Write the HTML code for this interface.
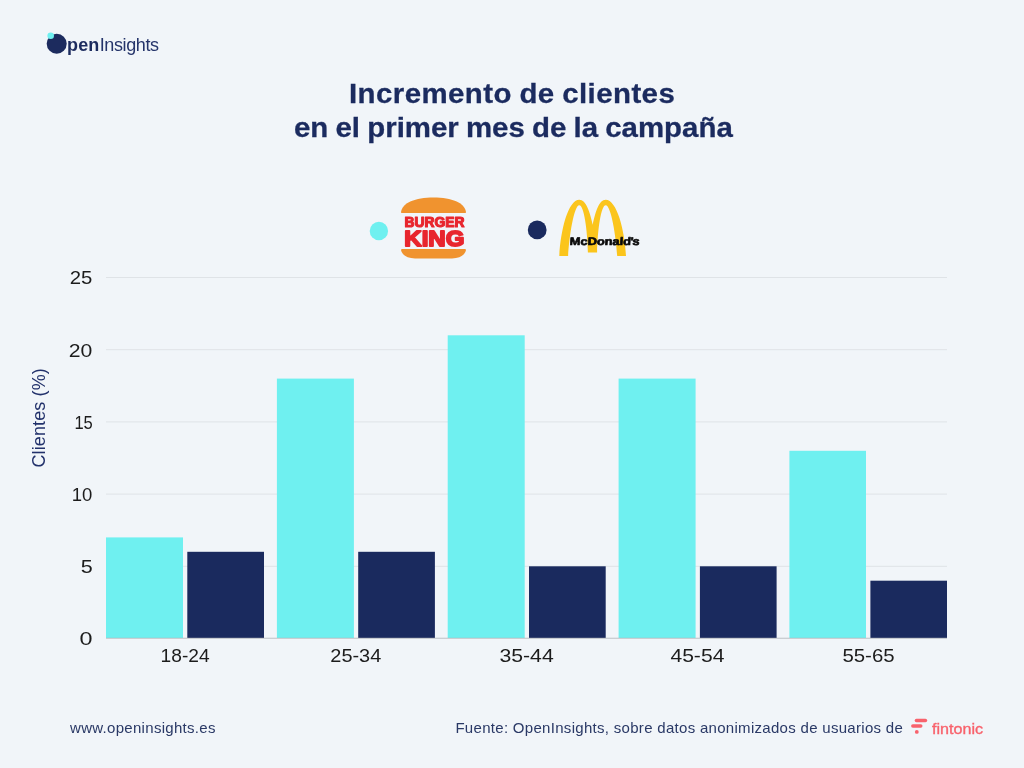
<!DOCTYPE html>
<html lang="es">
<head>
<meta charset="utf-8">
<title>Incremento de clientes en el primer mes de la campaña</title>
<style>
html,body{margin:0;padding:0;}
body{width:1024px;height:768px;overflow:hidden;background:#f1f5f9;position:relative;font-family:"Liberation Sans",sans-serif;}
.abs{position:absolute;white-space:nowrap;line-height:1;transform-origin:0 0;}
svg{position:absolute;left:0;top:0;}
svg text{font-family:"Liberation Sans",sans-serif;}
h1{margin:0;font-weight:700;color:#1b2b5f;font-size:28.5px;-webkit-text-stroke:0.3px #1b2b5f;}
#t1{left:348.8px;top:79.0px;letter-spacing:0.42px;word-spacing:-1px;transform:scaleX(1.032);}
#t2{left:294.3px;top:113.4px;letter-spacing:0.01px;word-spacing:-1px;transform:scaleX(1.032);}
#brand{left:67.0px;top:36.2px;font-size:18px;color:#1c2b5e;}
#brand b{font-weight:700;letter-spacing:0.15px;}
#brand span{margin-left:0.3px;letter-spacing:-0.38px;color:#25346a;}
#url{left:70px;top:720px;font-size:15px;color:#2a3966;letter-spacing:0.3px;}
#src{left:455.4px;top:720px;font-size:15px;color:#2a3966;letter-spacing:0.3px;}
#fin{left:931.6px;top:721.5px;font-size:14.8px;color:#f8626c;-webkit-text-stroke:0.35px #f8626c;transform:scaleX(1.09);}
</style>
</head>
<body>
<header>
  <svg width="180" height="70" viewBox="0 0 180 70">
    <circle cx="56.7" cy="43.8" r="10" fill="#1c2b5e"/>
    <circle cx="50.7" cy="35.8" r="3.3" fill="#6ff0f0"/>
  </svg>
  <div id="brand" class="abs"><b>pen</b><span>Insights</span></div>
</header>
<h1><span id="t1" class="abs">Incremento de clientes</span> <span id="t2" class="abs">en el primer mes de la campaña</span></h1>

<svg id="chart" width="1024" height="768" viewBox="0 0 1024 768">
  <!-- legend -->
  <circle cx="378.9" cy="231" r="9.2" fill="#6ff0f0"/>
  <circle cx="537.2" cy="229.9" r="9.4" fill="#1a2a5e"/>
  <!-- Burger King -->
  <g id="bk">
    <path d="M402.2 213.1 Q401 213.1 401 211.9 C402.5 203 415 197.6 433.5 197.6 C452 197.6 464.5 203 466 211.9 Q466 213.1 464.8 213.1 Z" fill="#f0932f"/>
    <path d="M402.2 248.9 H464.8 Q466 248.9 466 250.1 C465 255 460 258.4 452 258.4 H415 C407 258.4 402 255 401 250.1 Q401 248.9 402.2 248.9 Z" fill="#f0932f"/>
    <text x="404.5" y="226.9" font-size="15.1" font-weight="700" fill="#e8262e" stroke="#e8262e" stroke-width="1.2" stroke-linejoin="round" textLength="60.0" lengthAdjust="spacingAndGlyphs">BURGER</text>
    <text x="404.3" y="246.0" font-size="22.4" font-weight="700" fill="#e8262e" stroke="#e8262e" stroke-width="1.8" stroke-linejoin="round" textLength="60.1" lengthAdjust="spacingAndGlyphs">KING</text>
  </g>
  <!-- McDonald's -->
  <g id="mcd">
    <path fill="#fbc51c" d="M559.3 256 C560.6 230 568.2 199.8 579.3 199.8 C586 199.8 590 212 592.7 224.7 C595.4 212 599 199.8 605.7 199.8 C616.8 199.8 624.7 230 626 256 H617.2 C616 236 611 205.2 605.7 205.2 C601 205.2 597.6 230 597.1 252.5 H587.9 C587.4 230 584 205.2 579.3 205.2 C574 205.2 569.3 236 568.1 256 Z"/>
    <text transform="translate(569.6 244.6) scale(1.19 1) skewX(-3)" font-size="10.8" font-weight="700" fill="#0a0a0a" stroke="#0a0a0a" stroke-width="0.65" stroke-linejoin="round">McDonald<tspan dx="-0.5">'</tspan><tspan dx="-0.9">s</tspan></text>
  </g>
  <!-- grid -->
  <g stroke="#dfe3e7" stroke-width="1">
    <line x1="106" x2="947" y1="277.5" y2="277.5"/>
    <line x1="106" x2="947" y1="349.7" y2="349.7"/>
    <line x1="106" x2="947" y1="421.9" y2="421.9"/>
    <line x1="106" x2="947" y1="494.1" y2="494.1"/>
    <line x1="106" x2="947" y1="566.3" y2="566.3"/>
  </g>
  <!-- bars -->
  <g fill="#6ff0f0">
    <rect x="106" y="537.4" width="77" height="100.6"/>
    <rect x="276.9" y="378.6" width="77" height="259.4"/>
    <rect x="447.7" y="335.3" width="77" height="302.7"/>
    <rect x="618.6" y="378.6" width="77" height="259.4"/>
    <rect x="789.4" y="450.8" width="76.6" height="187.2"/>
  </g>
  <g fill="#1a2a5e">
    <rect x="187.3" y="551.8" width="76.7" height="86.2"/>
    <rect x="358.2" y="551.8" width="76.7" height="86.2"/>
    <rect x="529" y="566.3" width="76.7" height="71.7"/>
    <rect x="699.9" y="566.3" width="76.7" height="71.7"/>
    <rect x="870.4" y="580.7" width="76.6" height="57.3"/>
  </g>
  <line x1="106" x2="947" y1="638.25" y2="638.25" stroke="#b4b7bb" stroke-opacity="0.85" stroke-width="1.1"/>
  <!-- y ticks -->
  <g font-size="18.5" fill="#1c1c1c" text-anchor="end">
    <text x="92.4" y="284.3" textLength="22.6" lengthAdjust="spacingAndGlyphs">25</text>
    <text x="92.4" y="356.5" textLength="23.6" lengthAdjust="spacingAndGlyphs">20</text>
    <text x="92.8" y="428.7" textLength="18.4" lengthAdjust="spacingAndGlyphs">15</text>
    <text x="92.4" y="500.9" textLength="20.6" lengthAdjust="spacingAndGlyphs">10</text>
    <text x="92.8" y="573.1" textLength="12" lengthAdjust="spacingAndGlyphs">5</text>
    <text x="92.6" y="645.3" textLength="13" lengthAdjust="spacingAndGlyphs">0</text>
  </g>
  <!-- x ticks -->
  <g font-size="18" fill="#1c1c1c" text-anchor="middle">
    <text x="185.1" y="662" textLength="49" lengthAdjust="spacingAndGlyphs">18-24</text>
    <text x="355.8" y="662" textLength="51" lengthAdjust="spacingAndGlyphs">25-34</text>
    <text x="526.6" y="662" textLength="54.3" lengthAdjust="spacingAndGlyphs">35-44</text>
    <text x="697.4" y="662" textLength="54" lengthAdjust="spacingAndGlyphs">45-54</text>
    <text x="868.5" y="662" textLength="52.2" lengthAdjust="spacingAndGlyphs">55-65</text>
  </g>
  <text transform="translate(44.6 467.6) rotate(-90)" font-size="18" fill="#22316b" textLength="99.4" lengthAdjust="spacing">Clientes (%)</text>
  <!-- fintonic icon -->
  <g stroke="#f8626c" stroke-linecap="round" fill="#f8626c">
    <line x1="916.4" y1="720.5" x2="925.5" y2="720.5" stroke-width="3.4"/>
    <line x1="912.8" y1="726" x2="920.8" y2="726" stroke-width="3.4"/>
    <circle cx="916.8" cy="731.9" r="1.9" stroke="none"/>
  </g>
</svg>

<footer>
  <div id="url" class="abs">www.openinsights.es</div>
  <div id="src" class="abs">Fuente: OpenInsights, sobre datos anonimizados de usuarios de</div>
  <div id="fin" class="abs">fintonic</div>
</footer>
</body>
</html>
